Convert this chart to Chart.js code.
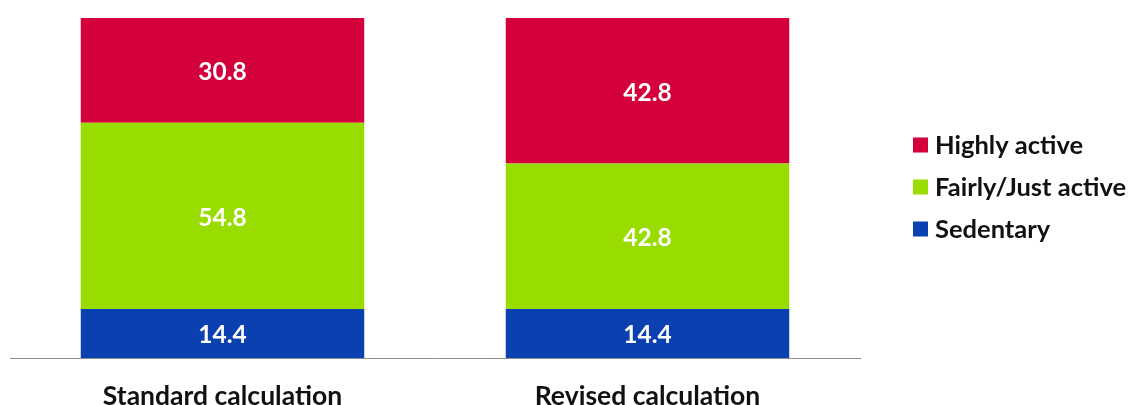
<!DOCTYPE html>
<html>
<head>
<meta charset="utf-8">
<script src="https://cdn.jsdelivr.net/npm/chart.js@4.4.0/dist/chart.umd.min.js"></script>
<style>
html,body{margin:0;padding:0;background:#fff;}
#wrap{width:1134px;height:405px;position:relative;}
</style>
</head>
<body>
<div id="wrap"><canvas id="c" width="1134" height="405"></canvas></div>
<script>
const categories = ["Standard calculation", "Revised calculation"];
const seriesNames = ["Sedentary", "Fairly/Just active", "Highly active"];
const sedentary = [14.4, 14.4];
const fairlyActive = [54.8, 42.8];
const highlyActive = [30.8, 42.8];
const seriesColors = ["#0B40B0", "#99DD00", "#D4003C"];

const FONT = "Lato, 'Open Sans', sans-serif";

const valueLabels = {
  id: 'valueLabels',
  afterDatasetsDraw(chart) {
    const ctx = chart.ctx;
    ctx.save();
    ctx.font = "bold 24.5px " + FONT;
    ctx.fillStyle = "#ffffff";
    ctx.textAlign = "center";
    ctx.textBaseline = "middle";
    chart.data.datasets.forEach((ds, i) => {
      const meta = chart.getDatasetMeta(i);
      meta.data.forEach((el, j) => {
        const p = el.getProps(['x', 'y', 'base'], true);
        ctx.fillText(ds.data[j].toFixed(1), p.x, (p.y + p.base) / 2 + 2);
      });
    });
    ctx.restore();
  }
};

const sideLegend = {
  id: 'sideLegend',
  afterDraw(chart) {
    const ctx = chart.ctx;
    ctx.save();
    ctx.font = "bold 25.5px " + FONT;
    ctx.textBaseline = "middle";
    ctx.textAlign = "left";
    const ds = chart.data.datasets.slice().reverse();
    const x0 = 913, y0 = 145, step = 42, box = 15;
    ds.forEach((d, k) => {
      const y = y0 + k * step;
      ctx.fillStyle = d.backgroundColor;
      ctx.fillRect(x0, y - box / 2, box, box);
      ctx.fillStyle = "#111111";
      ctx.fillText(d.label, x0 + 22, y + 1);
    });
    ctx.restore();
  }
};

new Chart(document.getElementById('c'), {
  type: 'bar',
  data: {
    labels: categories,
    datasets: [
      { label: seriesNames[0], data: sedentary, backgroundColor: seriesColors[0] },
      { label: seriesNames[1], data: fairlyActive, backgroundColor: seriesColors[1] },
      { label: seriesNames[2], data: highlyActive, backgroundColor: seriesColors[2] }
    ]
  },
  options: {
    responsive: false,
    animation: false,
    layout: { padding: { left: 10, right: 274, top: 18, bottom: 0 } },
    datasets: { bar: { categoryPercentage: 1.0, barPercentage: 0.667, borderWidth: 0 } },
    plugins: { legend: { display: false }, tooltip: { enabled: false } },
    scales: {
      x: {
        stacked: true,
        grid: { display: false, drawTicks: false },
        border: { display: true, color: '#8c8c8c', width: 1 },
        ticks: { color: '#111111', padding: 25, font: { family: FONT, size: 26.5, weight: 'bold', lineHeight: 1.0 } },
        afterFit(scale) { scale.height = 47; }
      },
      y: {
        stacked: true, display: false, min: 0, max: 100
      }
    }
  },
  plugins: [valueLabels, sideLegend]
});
</script>
</body>
</html>
